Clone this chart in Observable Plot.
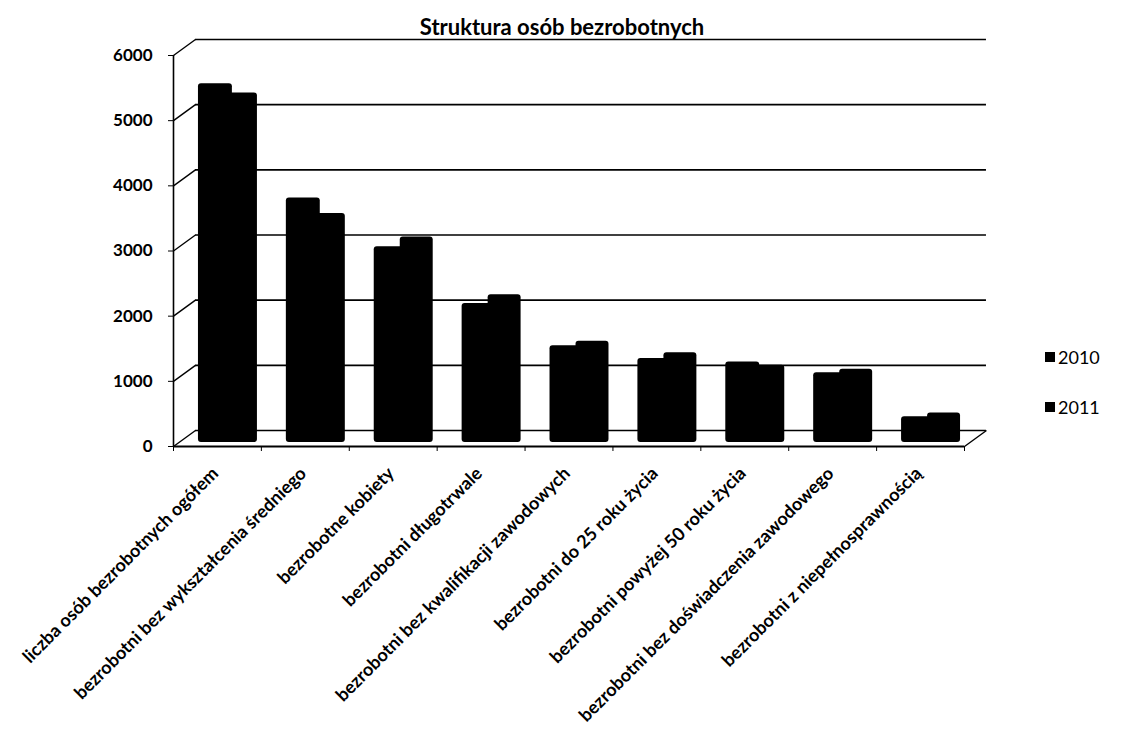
<!DOCTYPE html>
<html>
<head>
<meta charset="utf-8">
<script src="https://cdn.jsdelivr.net/npm/d3@7"></script>
<script src="https://cdn.jsdelivr.net/npm/@observablehq/plot@0.6"></script>
<style>
  html, body { margin: 0; padding: 0; background: #fff; }
  #wrap { position: relative; width: 1122px; height: 732px; font-family: Lato, "Open Sans", sans-serif; }
  #title { position: absolute; left: 0; width: 1122px; top: 13px; text-align: center; font-weight: bold; font-size: 22px; color: #000; }
  #title span { position: relative; left: 1px; }
  .leg { position: absolute; left: 1045px; font-size: 18px; color: #000; display: flex; align-items: center; }
  .leg i { display: inline-block; width: 10px; height: 10px; background: #000; margin-right: 3px; }
</style>
</head>
<body>
<div id="wrap">
  <div id="chart"></div>
  <div id="title"><span>Struktura osób bezrobotnych</span></div>
  <div class="leg" style="top:346px"><i></i>2010</div>
  <div class="leg" style="top:396px"><i></i>2011</div>
</div>
<script>
const categories = [
  "liczba osób bezrobotnych ogółem",
  "bezrobotni bez wykształcenia średniego",
  "bezrobotne kobiety",
  "bezrobotni długotrwale",
  "bezrobotni bez kwalifikacji zawodowych",
  "bezrobotni do 25 roku życia",
  "bezrobotni powyżej 50 roku życia",
  "bezrobotni bez doświadczenia zawodowego",
  "bezrobotni z niepełnosprawnością"
];
const years = ["2010", "2011"];
const values2010 = [5450, 3700, 2950, 2080, 1430, 1235, 1180, 1015, 340];
const values2011 = [5310, 3460, 3100, 2215, 1500, 1325, 1130, 1070, 400];
const yTicks = [0, 1000, 2000, 3000, 4000, 5000, 6000];

const rows2010 = categories.map((c, i) => ({i, cat: c, year: years[0], value: values2010[i]}));
const rows2011 = categories.map((c, i) => ({i, cat: c, year: years[1], value: values2011[i]}));
const labelRows = categories.map((c, i) => ({i, cat: c}));

// pseudo-3D depth of the back wall
const depthX = 0.25;                       // in category units
const depthY = 16 * 6000 / (446 - 55);     // 16px expressed in value units

const chart = Plot.plot({
  width: 1122,
  height: 732,
  marginLeft: 173,
  marginRight: 158,
  marginTop: 55,
  marginBottom: 286,
  style: {fontFamily: "Lato, 'Open Sans', sans-serif", background: "#fff", color: "#000"},
  x: {type: "linear", domain: [0, categories.length], axis: null},
  y: {domain: [0, 6000], axis: null, label: null},
  marks: [
    // back wall gridlines
    Plot.ruleY(yTicks, {x1: depthX, x2: categories.length + depthX, y: d => d + depthY, stroke: "#000", strokeWidth: 1.6}),
    // connectors from axis to back wall
    Plot.link(yTicks, {x1: 0, y1: d => d, x2: depthX, y2: d => d + depthY, stroke: "#000", strokeWidth: 1.4}),
    // right floor edge
    Plot.link([0], {x1: categories.length, y1: 0, x2: categories.length + depthX, y2: depthY, stroke: "#000", strokeWidth: 1.4}),
    // bars
    Plot.rect(rows2011, {x1: d => d.i + 0.58, x2: d => d.i + 0.955, y1: 0, y2: "value", fill: "#000", dy: -7.5, insetBottom: -3.5, rx: 3}),
    Plot.rect(rows2010, {x1: d => d.i + 0.284, x2: d => d.i + 0.67, y1: 0, y2: "value", fill: "#000", dy: -7.5, insetBottom: -3.5, rx: 3}),
    // front axes
    Plot.ruleX([0], {y1: 0, y2: 6000, stroke: "#000", strokeWidth: 1.6}),
    Plot.ruleY([0], {x1: 0, x2: categories.length, stroke: "#000", strokeWidth: 1.8}),
    Plot.axisY({ticks: yTicks, tickSize: 5, tickPadding: 16, tickFormat: d => String(d), fontSize: 17, fontWeight: "bold", label: null}),
    Plot.axisX({ticks: d3.range(categories.length + 1), tickSize: 5, tickFormat: () => "", label: null}),
    // category labels
    Plot.text(labelRows, {x: d => d.i + 0.5, y: 0, text: "cat", rotate: -45, textAnchor: "end", dx: -2, dy: 24, fontSize: 18, fontWeight: "bold", fill: "#000"})
  ]
});
document.getElementById("chart").appendChild(chart);
</script>
</body>
</html>
